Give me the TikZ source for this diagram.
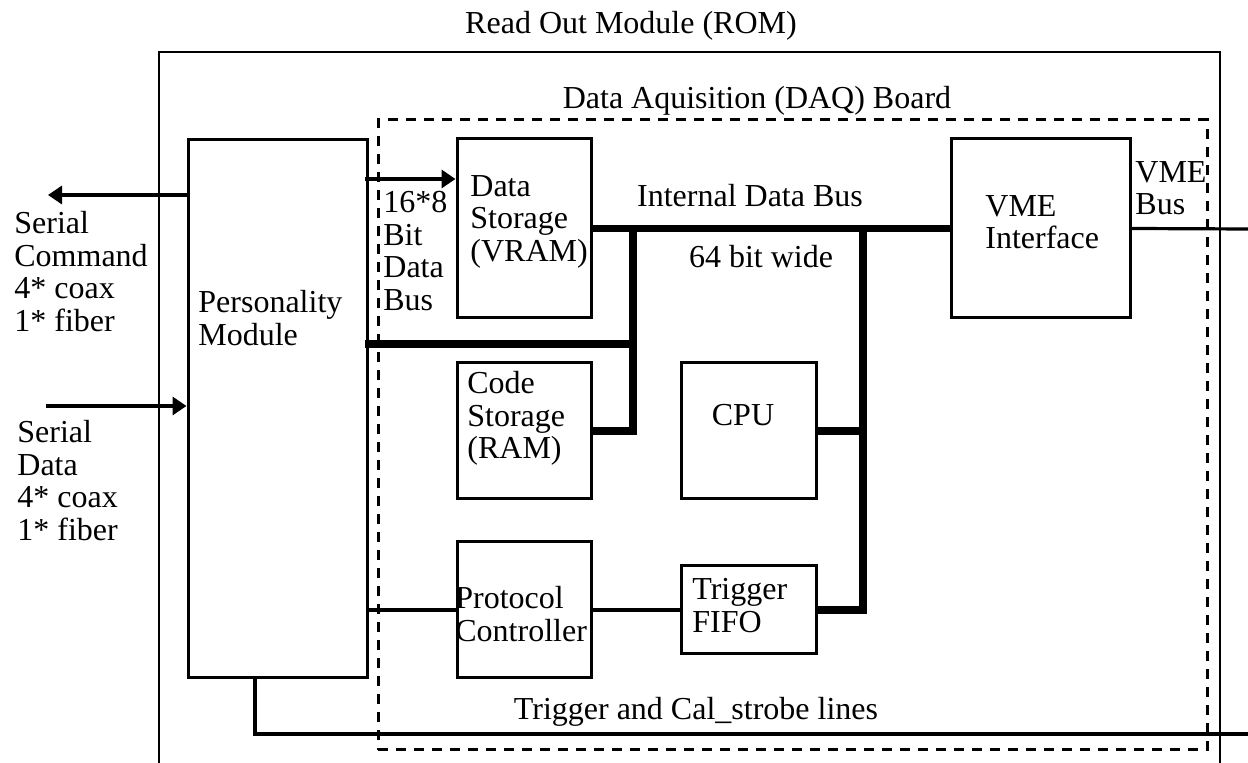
\documentclass[tikz,border=0pt]{standalone}
\usepackage{fontspec}
\setmainfont{Liberation Serif}
\usetikzlibrary{arrows.meta}
\begin{document}
\begin{tikzpicture}[x=0.5pt,y=-0.5pt,
  every node/.style={font=\fontsize{16}{16.25}\selectfont, inner sep=0pt},
  blk/.style={draw, line width=1.5pt, rectangle},
  txt/.style={align=left, anchor=north west},
  lbl/.style={anchor=base},
  wire/.style={line width=1.6pt},
  bus/.style={line width=3.8pt, line join=miter},
  arr/.style={line width=1.7pt, -{Triangle[length=7pt,width=9pt]}},
  frame/.style={line width=1.4pt},
  daqframe/.style={draw, line width=1.5pt, dash pattern=on 5pt off 4pt}]
\useasboundingbox (0,0) rectangle (1248,763);

% frames
\draw[frame] (159,763) -- (159,52) -- (1220,52) -- (1220,763);
\node[daqframe, minimum width=414.5pt, minimum height=315pt] (daq) at (792.5,435) {};

% boxes
\node[blk, minimum width=89.5pt, minimum height=269pt] (pm) at (277.5,409) {};
\node[blk, minimum width=67pt, minimum height=89.5pt] (ds) at (524,228.5) {};
\node[blk, minimum width=67pt, minimum height=68pt] (cs) at (524,431) {};
\node[blk, minimum width=67pt, minimum height=68pt] (pc) at (524,610) {};
\node[blk, minimum width=67.5pt, minimum height=68pt] (cpu) at (748.5,431) {};
\node[blk, minimum width=67.5pt, minimum height=44pt] (fifo) at (748.5,610) {};
\node[blk, minimum width=89.5pt, minimum height=89.5pt] (vme) at (1040.5,228.5) {};

% box texts
\node[txt] (pmt) at (198,290) {Personality\\Module};
\node[txt] (dst) at (470,175) {Data\\Storage\\(VRAM)};
\node[txt] (cst) at (467,371) {Code\\Storage\\(RAM)};
\node[txt] (pct) at (455,586) {Protocol\\Controller};
\node[txt] (fifot) at (692,578) {Trigger\\FIFO};
\node[txt] (vmet) at (985,195) {VME\\Interface};
\node[lbl] (cput) at (743,426) {CPU};

% free labels
\node[lbl] (rom) at (631,34) {Read Out Module (ROM)};
\node[lbl] (daqt) at (757,109) {Data Aquisition (DAQ) Board};
\node[txt] (cmdt) at (14,211) {Serial\\Command\\4* coax\\1* fiber};
\node[txt] (datt) at (17,420) {Serial\\Data\\4* coax\\1* fiber};
\node[txt] (bust) at (383,191) {16*8\\Bit\\Data\\Bus};
\node[txt] (vmebt) at (1135,161) {VME\\Bus};
\node[lbl] (idb) at (750,207) {Internal Data Bus};
\node[lbl] (wide) at (761,268) {64 bit wide};
\node[lbl] (trg) at (696,720) {Trigger and Cal\_strobe lines};

% coordinates
\coordinate (cmdtip) at (48,195);
\coordinate (datsrc) at (46,406);
\coordinate (j1) at (633,228.5);
\coordinate (j2) at (633,344);
\coordinate (j3) at (633,431);
\coordinate (k1) at (863,228.5);
\coordinate (k2) at (863,431);
\coordinate (k3) at (863,610);
\coordinate (vmeout) at (1248,229);
\coordinate (t1) at (255,734);
\coordinate (t2) at (1248,734);

% serial links
\draw[arr] (pm.west |- cmdtip) -- (cmdtip);
\draw[arr] (datsrc) -- (pm.west |- datsrc);
\draw[arr] ([xshift=-2pt]pm.east |- 0,179) -- (ds.west |- 0,179);

% buses
\draw[bus] (ds.east) -- (vme.west);
\draw[bus] (j1) -- (j3) -- (cs.east);
\draw[bus] ([xshift=-2pt]pm.east |- j2) -- (j2);
\draw[bus] (k1) -- (k3) -- (fifo.east);
\draw[bus] (cpu.east) -- (k2);

% thin wires
\draw[wire] (vme.east) -- (vmeout);
\draw[wire] (pm.east |- pc.west) -- (pc.west);
\draw[wire] (pc.east) -- (fifo.west);
\draw[wire] (pm.south -| t1) -- (t1) -- (t2);
\end{tikzpicture}
\end{document}
